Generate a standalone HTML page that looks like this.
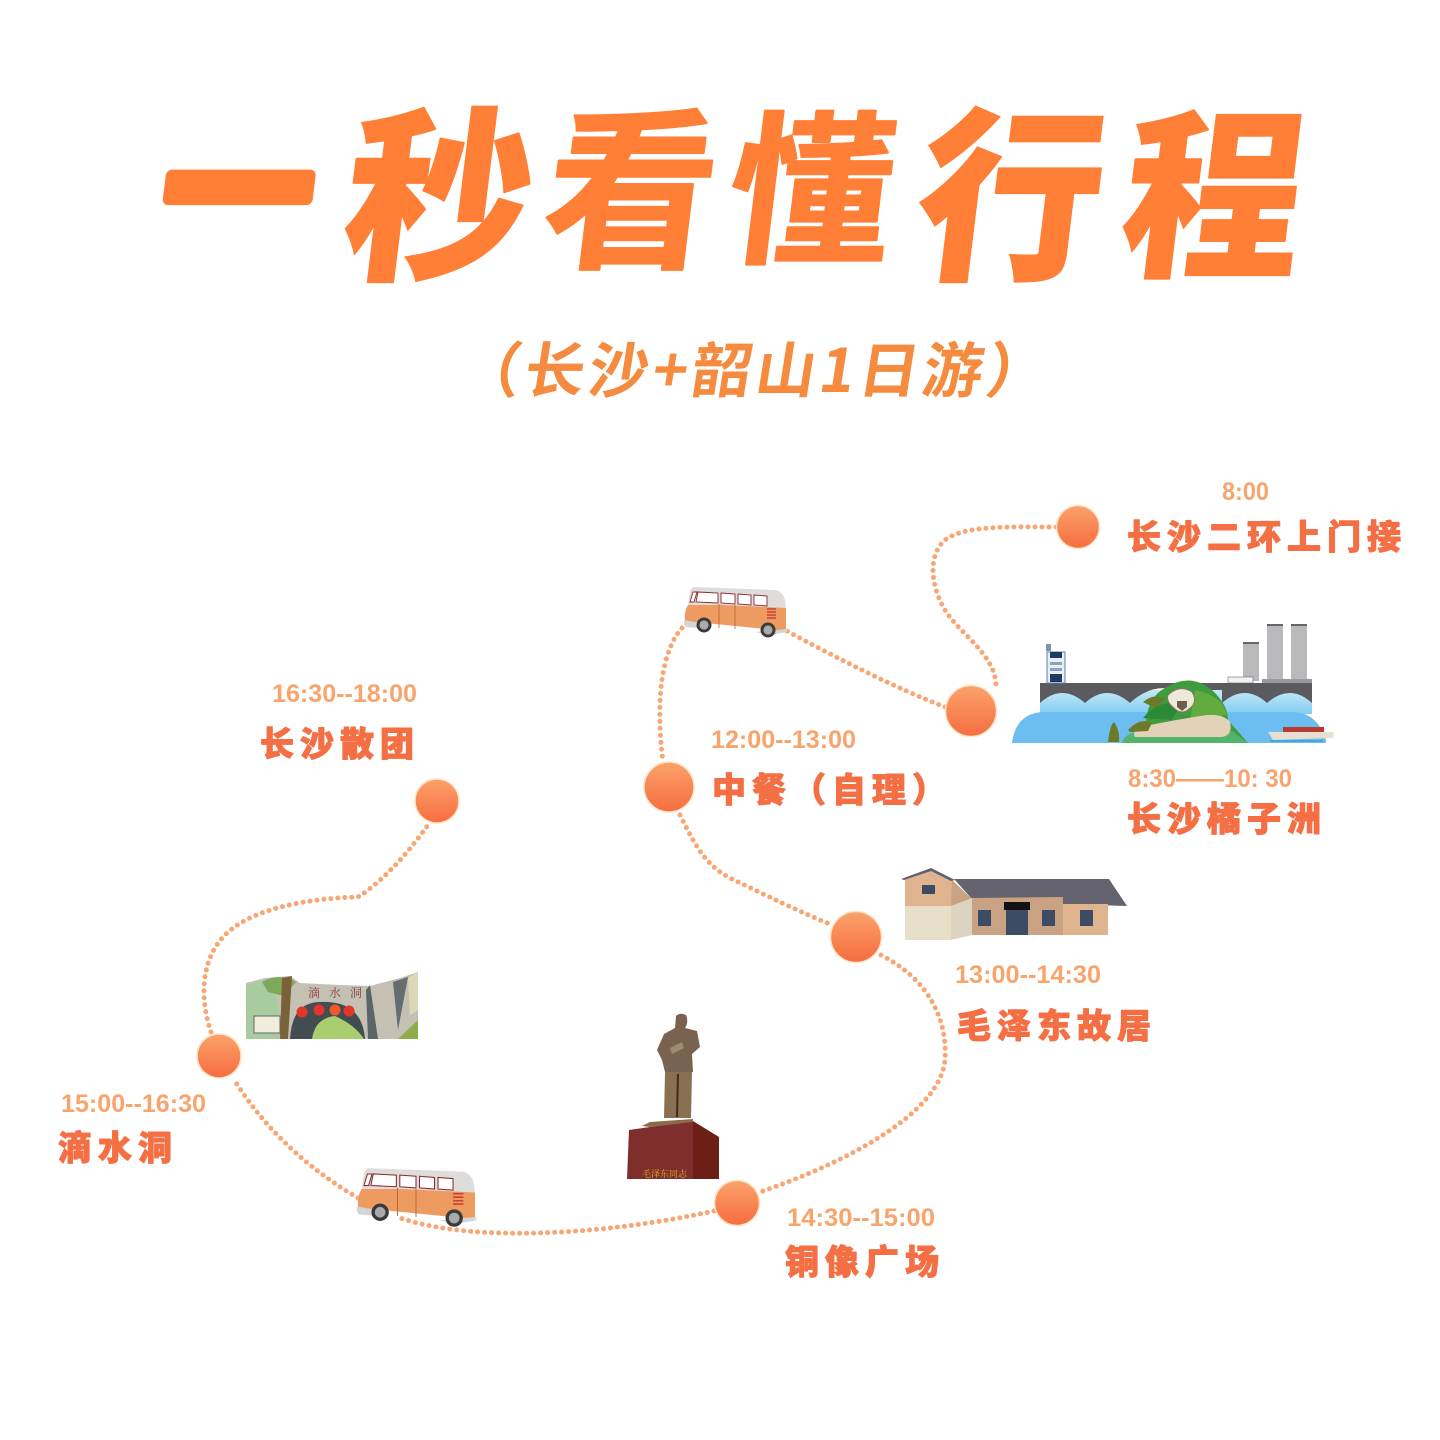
<!DOCTYPE html>
<html lang="zh"><head><meta charset="utf-8"><style>
html,body{margin:0;padding:0;background:#fff}svg{display:block}
.t{font-family:"Noto Sans CJK SC","WenQuanYi Zen Hei",sans-serif;font-weight:900;fill:#ff7f36;stroke:#ff7f36;stroke-width:1;stroke-linejoin:round;text-anchor:middle}
.s{font-family:"Noto Sans CJK SC",sans-serif;font-weight:700;font-size:60px;fill:#f58b3f}
.h{font-family:"Liberation Sans",sans-serif;font-weight:700;font-size:25px;fill:#f8a46d}
.l{font-family:"Liberation Sans","Noto Sans CJK SC",sans-serif;font-weight:900;font-size:34px;letter-spacing:6px;fill:#f56f45;stroke:#f56f45;stroke-width:1;stroke-linejoin:round}
.d{fill:none;stroke:#f9a674;stroke-width:5;stroke-linecap:round;stroke-dasharray:0 7}
.c{fill:url(#g);stroke:#ffe3c2;stroke-width:1.5}
</style></head><body>
<svg width="1440" height="1440" viewBox="0 0 1440 1440" xmlns="http://www.w3.org/2000/svg">
<defs>
<linearGradient id="g" x1="0" y1="0" x2="0" y2="1"><stop offset="0" stop-color="#fba26b"/><stop offset="1" stop-color="#f66d40"/></linearGradient>
<linearGradient id="w" x1="0" y1="0" x2="0" y2="1"><stop offset="0" stop-color="#c3e8f8"/><stop offset="1" stop-color="#82cdf1"/></linearGradient>
<g id="bus">
<path d="M690 591L693 587L776 590Q783 592 785 600L786 612L688 606Z" fill="#dfdcdc"/>
<path d="M688 605Q700 605 722 605L786 608L786 631L685 621Q684 611 688 605Z" fill="#ee9b62"/>
<path d="M684 620L700 623L700 628L686 627Q683 624 684 620Z" fill="#d5d5d5"/>
<path d="M755 632L787 629L787 632L770 635Z" fill="#d5d5d5"/>
<path d="M690 602L693 592L697 592L694 602Z" fill="#fff" stroke="#8a2a2a" stroke-width=".9"/>
<path d="M696 602L698 592L718 593L718 603Z" fill="#fff" stroke="#8a2a2a" stroke-width=".9"/>
<path d="M721 593L735 594L735 604L721 603Z" fill="#fff" stroke="#8a2a2a" stroke-width=".9"/>
<path d="M738 594L751 595L751 605L738 604Z" fill="#fff" stroke="#8a2a2a" stroke-width=".9"/>
<path d="M754 595L767 596L767 606L754 605Z" fill="#fff" stroke="#8a2a2a" stroke-width=".9"/>
<path d="M719 604V628M735 605V629" stroke="#b7622f" stroke-width=".8" fill="none"/>
<path d="M767 609H776M767 612H776M767 615H776M767 618H776" stroke="#c8432f" stroke-width="1.4" fill="none"/>
<circle cx="704" cy="625" r="7.5" fill="#3a3a3a"/><circle cx="704" cy="625" r="4.6" fill="#aaa"/>
<circle cx="768" cy="630" r="7.5" fill="#3a3a3a"/><circle cx="768" cy="630" r="4.6" fill="#aaa"/>
</g>
</defs>
<rect width="1440" height="1440" fill="#fff"/>

<text class="t" font-size="148" transform="translate(232,245) skewX(-7)" style="stroke-width:12">一</text>
<text class="t" font-size="186" transform="translate(431,265) skewX(-7)">秒</text>
<text class="t" font-size="172" transform="translate(624,254) skewX(-7)" style="font-weight:700;stroke-width:2">看</text>
<text class="t" font-size="164" transform="translate(804,250) skewX(-7)" style="font-weight:700;stroke-width:2">懂</text>
<text class="t" font-size="186" transform="translate(1003,265) skewX(-7)">行</text>
<text class="t" font-size="180" transform="translate(1206,262) skewX(-7)">程</text>

<text class="s" transform="skewX(-9)" x="520" y="392" textLength="586" lengthAdjust="spacing">（长沙+韶山1日游）</text>

<path class="d" d="M1056 527C1010 527 965 525 945 540C928 555 930 585 945 610C960 635 998 655 996 690"/>
<path class="d" d="M945 707C900 690 840 660 785 630"/>
<path class="d" d="M682 628C662 650 655 700 663 762"/>
<path class="d" d="M680 815C695 845 705 865 730 878C765 895 800 912 832 925"/>
<path class="d" d="M881 955C920 975 948 1010 945 1060C940 1115 840 1165 760 1192"/>
<path class="d" d="M714 1211C620 1232 480 1245 400 1218"/>
<path class="d" d="M358 1198C310 1170 265 1130 233 1078"/>
<path class="d" d="M211 1032C200 1000 200 960 225 935C255 905 320 898 358 897C385 880 410 850 428 825"/>

<use href="#bus"/>
<use href="#bus" transform="translate(357,1167) scale(1.157,1.16) translate(-684,-586)"/>

<!-- bridge scene -->
<g>
<rect x="1243" y="643" width="16" height="38" fill="#b9b9bb"/><rect x="1243" y="642" width="16" height="2" fill="#666"/>
<rect x="1267" y="625" width="16" height="56" fill="#b9b9bb"/><rect x="1267" y="624" width="16" height="2" fill="#666"/>
<rect x="1291" y="625" width="16" height="56" fill="#b9b9bb"/><rect x="1291" y="624" width="16" height="2" fill="#666"/>
<rect x="1262" y="679" width="50" height="5" fill="#9a9a9c"/>
<rect x="1040" y="690" width="272" height="24" fill="url(#w)"/>
<path d="M1012 743Q1016 712 1045 712H1295Q1318 714 1326 740L1326 743Z" fill="#6cbdf0"/>
<path d="M1040 683H1312V703Q1290 683 1267 703Q1245 683 1222 703V690H1175Q1152 683 1130 703Q1107 683 1085 703Q1062 683 1040 703Z" fill="#5b5b5f"/>
<rect x="1047" y="652" width="18" height="31" fill="#e6edf3" stroke="#5f7fa4"/><rect x="1050" y="652" width="12" height="6" fill="#1d3a66"/><rect x="1050" y="662" width="12" height="3" fill="#8ea4bd"/><rect x="1050" y="668" width="12" height="3" fill="#8ea4bd"/><rect x="1050" y="674" width="12" height="8" fill="#1d3a66"/>
<rect x="1046" y="644" width="5" height="7" fill="#7d94ad"/>
<rect x="1228" y="677" width="25" height="6" fill="#f2f2f2" stroke="#555" stroke-width=".5"/>
<path d="M1146 743Q1142 700 1165 688Q1190 672 1212 690Q1228 705 1228 720L1248 743Z" fill="#3f9c3e"/>
<path d="M1143 718Q1160 698 1180 705L1172 720Z" fill="#2c8a35"/>
<path d="M1195 690Q1222 695 1227 715L1190 720Z" fill="#62ab3d"/>
<path d="M1122 743Q1124 733 1142 731H1232L1248 743Z" fill="#52b36a"/>
<path d="M1150 725Q1175 720 1200 716Q1222 712 1230 722Q1233 735 1222 737H1135Q1130 730 1150 725Z" fill="#e3d2b8"/>
<path d="M1168 695Q1180 684 1192 692Q1198 702 1190 708Q1182 716 1174 708Q1166 702 1168 695Z" fill="#efe9d9" stroke="#8a7864" stroke-width="1"/><path d="M1177 701h10v6l-5 4-5-4z" fill="#6e5e4c"/>
<path d="M1128 730Q1140 717 1152 723L1148 731L1130 732Z" fill="#6d7a2a"/>
<path d="M1143 702Q1155 692 1165 700L1155 708Z" fill="#6d7a2a"/>
<path d="M1108 742Q1110 725 1114 722Q1120 730 1119 742Z" fill="#6d7a2a"/>
<path d="M1268 732H1334L1333 738L1273 740Z" fill="#e9dfd0"/><path d="M1283 727H1324V732H1283Z" fill="#b73a30"/>
<path d="M1270 740H1323V742H1270Z" fill="#45a5e0"/>
</g>

<!-- house -->
<g>
<path d="M954 879H1109L1127 906L1063 904V898L972 899Z" fill="#64636e"/>
<path d="M905 878L931 869L952 880L972 899L951 906H905Z" fill="#dfb48e"/>
<path d="M951 906L972 899L952 880Z" fill="#c9a283"/>
<path d="M905 906H951V940H905Z" fill="#e8dfc9"/>
<path d="M951 906L972 898V935L951 940Z" fill="#dcd4c0"/>
<path d="M972 898L1063 897V935H972Z" fill="#c9a283"/>
<path d="M1063 904H1108V935H1063Z" fill="#dfb48e"/>
<path d="M901 879L931 868L955 880L951 881L931 871L904 880Z" fill="#5e6271"/>
<rect x="922" y="885" width="13" height="9" fill="#3d4c64"/>
<rect x="978" y="910" width="13" height="16" fill="#3d4c64"/>
<rect x="1006" y="910" width="22" height="25" fill="#3d4c64"/>
<rect x="1004" y="902" width="26" height="8" fill="#111"/>
<rect x="1042" y="910" width="13" height="16" fill="#3d4c64"/>
<rect x="1080" y="910" width="13" height="16" fill="#3d4c64"/>
</g>

<!-- cave -->
<g>
<path d="M246 1039V983L265 978L290 976L300 983L340 985L370 986L400 978L418 972V1039Z" fill="#c4c1b4"/>
<path d="M246 1039V985L272 978L285 1039Z" fill="#a9cba0"/>
<path d="M262 982Q280 972 296 982L284 996L268 992Z" fill="#7fa95a"/>
<path d="M282 978L292 976L288 1039H280Z" fill="#7a6238"/>
<path d="M290 1039Q292 1002 320 1002Q362 1000 365 1039Z" fill="#434c50"/>
<path d="M312 1039Q315 1018 335 1016Q355 1025 364 1039Z" fill="#a9ce70"/>
<path d="M370 985L378 1039H368L366 990Z" fill="#5c6468"/><path d="M393 982L408 977L398 1030Z" fill="#656d70"/>
<path d="M408 978L418 972V1010L410 1015Z" fill="#dbd8b8"/>
<rect x="254" y="1016" width="26" height="17" fill="#efeedd" stroke="#666"/>
<circle cx="302" cy="1012" r="5.5" fill="#e3362a"/><circle cx="319" cy="1010" r="5.5" fill="#e3362a"/><circle cx="335" cy="1010" r="5.5" fill="#ef5a2a"/><circle cx="349" cy="1011" r="5.5" fill="#e3362a"/>
<path d="M398 1039L418 1020V1039Z" fill="#8ead4a"/>
<text x="308" y="997" font-family="Noto Serif CJK SC,serif" font-size="12" letter-spacing="9" fill="#8a3a3a">滴水洞</text>
</g>

<!-- statue -->
<g>
<path d="M627 1179L629 1130L693 1121V1179Z" fill="#7e2f2d"/>
<path d="M693 1121L719 1137V1179H693Z" fill="#6b1f17"/>
<path d="M642 1126L650 1122L693 1119L693 1122L650 1127Z" fill="#8a6a48"/>
<path d="M676 1016Q680 1012 686 1015Q689 1022 685 1028L697 1031L700 1047L692 1054L693 1072H665L662 1060L657 1050L664 1034L675 1028Z" fill="#7a6250"/>
<path d="M665 1072H692L691 1118H664Z" fill="#8a7052"/>
<path d="M678 1074L677 1117" stroke="#3c2c1e" stroke-width="2"/>
<path d="M670 1048L682 1042L684 1048L672 1054Z" fill="#a08a74"/>
<text x="642" y="1177" font-family="Noto Serif CJK SC,serif" font-size="9" fill="#e0b020">毛泽东同志</text>
</g>

<circle class="c" cx="1078" cy="527" r="21.5"/>
<circle class="c" cx="971" cy="711" r="25.5"/>
<circle class="c" cx="669" cy="787" r="25"/>
<circle class="c" cx="856" cy="937" r="25.5"/>
<circle class="c" cx="737" cy="1203" r="22.5"/>
<circle class="c" cx="219" cy="1056" r="22"/>
<circle class="c" cx="437" cy="801" r="22"/>

<text class="h" x="1222" y="500" textLength="47" lengthAdjust="spacingAndGlyphs">8:00</text>
<text class="h" x="272" y="702" textLength="145" lengthAdjust="spacingAndGlyphs">16:30--18:00</text>
<text class="h" x="711" y="748" textLength="145" lengthAdjust="spacingAndGlyphs">12:00--13:00</text>
<text class="h" x="1128" y="787" textLength="164" lengthAdjust="spacingAndGlyphs">8:30——10: 30</text>
<text class="h" x="955" y="983" textLength="146" lengthAdjust="spacingAndGlyphs">13:00--14:30</text>
<text class="h" x="61" y="1112" textLength="145" lengthAdjust="spacingAndGlyphs">15:00--16:30</text>
<text class="h" x="787" y="1226" textLength="148" lengthAdjust="spacingAndGlyphs">14:30--15:00</text>

<text class="l" x="1127" y="549">长沙二环上门接</text>
<text class="l" x="1127" y="831">长沙橘子洲</text>
<text class="l" x="260" y="756">长沙散团</text>
<text class="l" x="712" y="802">中餐（自理）</text>
<text class="l" x="957" y="1038">毛泽东故居</text>
<text class="l" x="785" y="1274">铜像广场</text>
<text class="l" x="58" y="1160">滴水洞</text>
</svg>
</body></html>
